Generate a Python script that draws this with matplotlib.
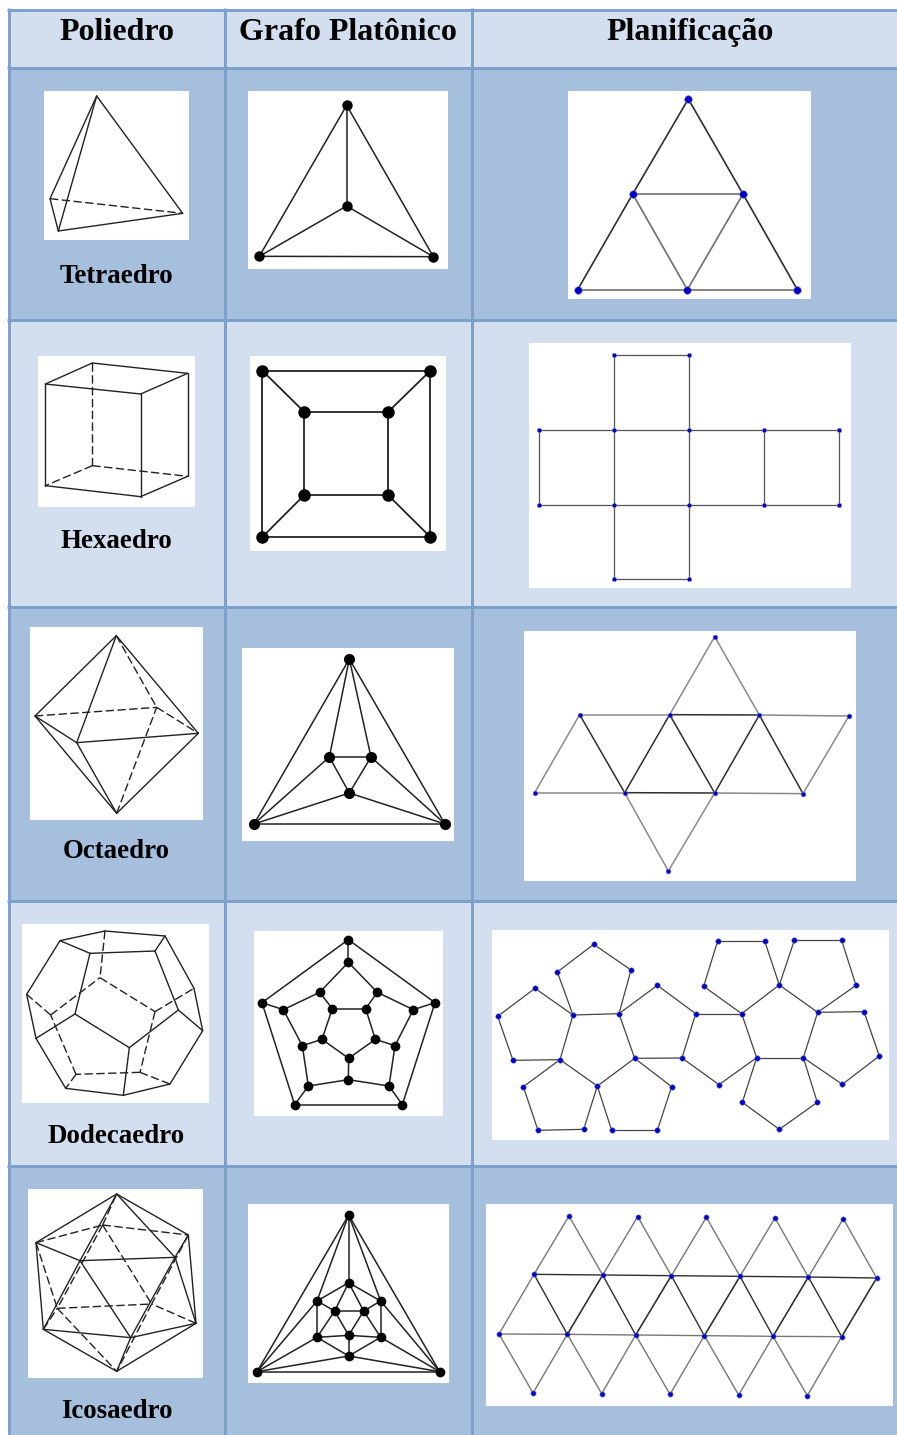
import matplotlib
matplotlib.use("Agg")
import matplotlib.pyplot as plt
from matplotlib.patches import Rectangle

LIGHT = "#D3DFEE"
DARK = "#A5BFDD"
BORDER = "#7BA0CD"

HEADERS = ["Poliedro", "Grafo Platônico", "Planificação"]
LABELS = ["Tetraedro", "Hexaedro", "Octaedro", "Dodecaedro", "Icosaedro"]

TETRA_POLY_X = [290, 150, 175, 548]
TETRA_POLY_Y = [288, 596, 693, 640]
TETRA_POLY_EDGES = [(0, 1), (0, 2), (0, 3), (1, 2), (2, 3)]
TETRA_POLY_DASHED = [(1, 3)]

TETRA_GRAPH_X = [1040, 1040, 778, 1300]
TETRA_GRAPH_Y = [316, 618, 769, 770]
TETRA_GRAPH_EDGES = [(0, 1), (0, 2), (0, 3), (1, 2), (1, 3), (2, 3)]

TETRA_NET_X = [625, 458, 789, 293, 622, 952]
TETRA_NET_Y = [297, 582, 582, 869, 869, 869]
TETRA_NET_EDGES = [(1, 2), (1, 4), (2, 4), (3, 4), (4, 5)]
TETRA_NET_HEAVY = [(0, 1), (0, 2), (1, 3), (2, 5)]

HEXA_POLY_X = [136, 277, 563, 422, 422, 563, 136, 277]
HEXA_POLY_Y = [162, 99, 130, 192, 500, 439, 467, 407]
HEXA_POLY_EDGES = [(0, 1), (1, 2), (2, 3), (3, 0), (0, 6), (3, 4), (2, 5), (6, 4), (4, 5)]
HEXA_POLY_DASHED = [(1, 7), (7, 6), (7, 5)]

HEXA_GRAPH_X = [787, 1291, 787, 1291, 913, 1164, 913, 1164]
HEXA_GRAPH_Y = [122, 122, 621, 621, 246, 246, 495, 495]
HEXA_GRAPH_EDGES = [(0, 1), (0, 2), (1, 3), (2, 3), (4, 5), (4, 6), (5, 7), (6, 7),
                    (0, 4), (1, 5), (2, 6), (3, 7)]

# this one is in plain pixels
HEXA_NET_X = [614, 689, 539, 614, 689, 764, 839, 539, 614, 689, 764, 839, 614, 689]
HEXA_NET_Y = [355, 355, 430, 430, 430, 430, 430, 505, 505, 505, 505, 505, 579, 579]
HEXA_NET_EDGES = [(0, 1), (0, 3), (1, 4), (2, 3), (3, 4), (4, 5), (5, 6), (2, 7), (3, 8),
                  (4, 9), (5, 10), (6, 11), (7, 8), (8, 9), (9, 10), (10, 11), (8, 12),
                  (9, 13), (12, 13)]

OCTA_POLY_X = [349, 105, 595, 350, 230, 470]
OCTA_POLY_Y = [77, 318, 370, 610, 398, 292]
OCTA_POLY_EDGES = [(0, 1), (0, 2), (0, 4), (3, 1), (3, 2), (3, 4), (1, 4), (4, 2)]
OCTA_POLY_DASHED = [(0, 5), (3, 5), (1, 5), (5, 2)]

OCTA_GRAPH_X = [1048, 762, 1335, 988, 1113, 1048]
OCTA_GRAPH_Y = [147, 642, 642, 441, 441, 549]
OCTA_GRAPH_EDGES = [(0, 1), (0, 2), (1, 2), (0, 3), (0, 4), (3, 4), (3, 5), (4, 5),
                    (3, 1), (4, 2), (5, 1), (5, 2)]

OCTA_NET_X = [614, 209, 479, 748, 1017, 74, 344, 614, 879, 475]
OCTA_NET_Y = [50, 284, 284, 285, 288, 518, 518, 519, 521, 753]
OCTA_NET_EDGES = [(0, 2), (0, 3), (1, 2), (3, 4), (5, 6), (7, 8), (1, 5), (4, 8), (6, 9), (7, 9)]
OCTA_NET_HEAVY = [(2, 3), (6, 7), (1, 6), (2, 6), (2, 7), (3, 7), (3, 8)]

DODECA_POLY_X = [180, 315, 495, 582, 608, 510, 370, 197, 108, 80,
                 270, 465, 535, 388, 225, 300, 465, 420, 228, 152]
DODECA_POLY_Y = [92, 63, 78, 235, 362, 522, 556, 535, 385, 253,
                 130, 123, 300, 413, 312, 203, 305, 487, 493, 315]
DODECA_POLY_EDGES = [(0, 1), (1, 2), (2, 3), (3, 4), (4, 5), (5, 6), (6, 7), (7, 8), (8, 9),
                     (9, 0), (0, 10), (10, 11), (11, 2), (11, 12), (12, 4), (12, 13),
                     (13, 14), (14, 10), (14, 8), (13, 6)]
DODECA_POLY_DASHED = [(1, 15), (15, 16), (16, 17), (17, 18), (18, 19), (19, 15),
                      (16, 3), (17, 5), (18, 7), (19, 9)]

DODECA_GRAPH_X = [1045, 1305, 1207, 884, 786, 1045, 1132, 1240, 1185, 1167,
                  1045, 925, 907, 850, 959, 1097, 1126, 1046, 966, 997]
DODECA_GRAPH_Y = [89, 278, 584, 584, 278, 157, 247, 299, 407, 528,
                  509, 528, 407, 299, 247, 296, 388, 445, 388, 296]
DODECA_GRAPH_EDGES = [(0, 1), (1, 2), (2, 3), (3, 4), (4, 0), (0, 5), (1, 7), (2, 9), (3, 11),
                      (4, 13), (5, 6), (6, 7), (7, 8), (8, 9), (9, 10), (10, 11), (11, 12),
                      (12, 13), (13, 14), (14, 5), (6, 15), (8, 16), (10, 17), (12, 18),
                      (14, 19), (15, 16), (16, 17), (17, 18), (18, 19), (19, 15)]

DODECA_NET_X = [341, 232, 453, 279, 417, 165, 53, 99, 240, 464, 352, 130, 174, 311, 395, 532,
                575, 532, 647, 606, 785, 830, 717, 898, 1013, 970, 671, 713, 854, 943, 1085,
                1128, 1152, 1198, 1087, 787, 898, 1012]
DODECA_NET_Y = [73, 156, 150, 285, 281, 205, 289, 421, 419, 415, 498, 500, 631, 628, 631, 631,
                500, 196, 281, 414, 281, 413, 494, 195, 277, 413, 199, 63, 63, 61, 61,
                196, 275, 408, 493, 547, 628, 547]
DODECA_NET_EDGES = [(0, 1), (0, 2), (1, 3), (2, 4), (3, 4), (5, 6), (6, 7), (7, 8), (8, 3), (3, 5),
                    (4, 9), (9, 10), (10, 8), (8, 11), (11, 12), (12, 13), (13, 10), (10, 14),
                    (14, 15), (15, 16), (16, 9), (4, 17), (17, 18), (18, 19), (19, 9), (18, 20),
                    (20, 21), (21, 22), (22, 19), (20, 23), (23, 24), (24, 25), (25, 21), (20, 26),
                    (26, 27), (27, 28), (28, 23), (23, 29), (29, 30), (30, 31), (31, 24), (24, 32),
                    (32, 33), (33, 34), (34, 25), (21, 35), (35, 36), (36, 37), (37, 25)]

ICOSA_POLY_X = [350, 108, 565, 308, 240, 525, 130, 588, 392, 350, 172, 455]
ICOSA_POLY_Y = [72, 218, 195, 165, 272, 262, 478, 460, 503, 604, 415, 402]
ICOSA_POLY_EDGES = [(0, 1), (0, 2), (0, 4), (0, 5), (1, 4), (4, 5), (5, 2), (1, 6), (2, 7),
                    (4, 6), (4, 8), (5, 8), (5, 7), (6, 8), (8, 7), (6, 9), (7, 9), (8, 9)]
ICOSA_POLY_DASHED = [(1, 3), (3, 2), (3, 0), (3, 10), (3, 11), (10, 11), (1, 10), (2, 11),
                     (6, 10), (7, 11), (10, 9), (11, 9)]

ICOSA_GRAPH_X = [1046, 771, 1319, 1046, 951, 1142, 951, 1142, 1046, 1004, 1091, 1046]
ICOSA_GRAPH_Y = [135, 605, 605, 338, 393, 393, 502, 502, 558, 423, 423, 496]
ICOSA_GRAPH_EDGES = [(0, 1), (0, 2), (1, 2), (0, 3), (0, 4), (0, 5), (1, 4), (1, 6), (1, 8),
                     (2, 5), (2, 7), (2, 8), (3, 4), (3, 5), (4, 6), (5, 7), (6, 8), (7, 8),
                     (9, 10), (9, 11), (10, 11), (3, 9), (3, 10), (4, 9), (6, 9), (6, 11),
                     (7, 11), (7, 10), (5, 10), (8, 11)]

# rows: 5 top, 6, 6, 5 bottom
ICOSA_NET_X = [267, 473, 679, 885, 1090,
               162, 368, 574, 780, 985, 1190,
               57, 262, 467, 673, 879, 1085,
               159, 365, 570, 776, 982]
ICOSA_NET_Y = [48, 50, 52, 54, 56,
               223, 225, 227, 229, 231, 234,
               402, 403, 405, 407, 409, 410,
               579, 581, 583, 585, 587]
ICOSA_NET_EDGES = [(10, 16)]
ICOSA_NET_HEAVY = []
for i in range(5):
    ICOSA_NET_EDGES += [(i, i + 5), (i, i + 6), (i + 11, i + 12), (i + 5, i + 11),
                        (i + 11, i + 17), (i + 12, i + 17)]
    ICOSA_NET_HEAVY += [(i + 5, i + 6), (i + 5, i + 12), (i + 6, i + 12)]

# white picture boxes, x0 y0 x1 y1 in pixels
POLY_BOXES = [(44, 91, 189, 240), (38, 356, 195, 507), (30, 627, 203, 820),
              (22, 924, 209, 1103), (28, 1189, 203, 1378)]
GRAPH_BOXES = [(248, 91, 448, 269), (250, 356, 446, 551), (242, 648, 454, 841),
               (254, 931, 443, 1116), (248, 1204, 449, 1383)]
NET_BOXES = [(568, 91, 811, 299), (529, 343, 851, 588), (524, 631, 856, 881),
             (492, 930, 889, 1140), (486, 1204, 893, 1406)]

ROW_LINES = [9.5, 67.5, 319.5, 606.5, 900.5, 1165.5, 1436]
COL_LINES = [8.5, 224.5, 471.5]
LABEL_BASELINES = [283, 548, 858, 1143, 1418]

fig = plt.figure(figsize=(8.97, 14.35), dpi=100)
ax = fig.add_axes([0, 0, 1, 1])
ax.set_xlim(0, 897)
ax.set_ylim(1435, 0)
ax.axis("off")


def draw(xs, ys, edges, dashed=(), heavy=(), crop=(0, 0), scale=3.0, color="#222222", lw=1.0,
         node=None, ms=7.0):
    px = [crop[0] + x / scale for x in xs]
    py = [crop[1] + y / scale for y in ys]
    for a, b in edges:
        ax.plot([px[a], px[b]], [py[a], py[b]], color=color, lw=lw, zorder=3,
                solid_capstyle="round")
    for a, b in heavy:
        ax.plot([px[a], px[b]], [py[a], py[b]], color="#2E2E2E", lw=lw, zorder=3,
                solid_capstyle="round")
    for a, b in dashed:
        ax.plot([px[a], px[b]], [py[a], py[b]], color=color, lw=lw, zorder=3,
                linestyle=(0, (6, 2.5)))
    if node == "black":
        ax.plot(px, py, "o", color="black", ms=ms, mew=0, zorder=4)
    elif node == "blue":
        ax.plot(px, py, "o", color="#0000CC", ms=ms, mec="#8A8AA0", mew=0.4, zorder=4)


# table background and grid
for i in range(len(ROW_LINES) - 1):
    fill = LIGHT if i % 2 == 0 else DARK
    ax.add_patch(Rectangle((COL_LINES[0], ROW_LINES[i]), 897 - COL_LINES[0],
                           ROW_LINES[i + 1] - ROW_LINES[i], fc=fill, ec="none", zorder=1))
for y in ROW_LINES[:-1]:
    ax.plot([COL_LINES[0] - 1.5, 897], [y, y], color=BORDER, lw=2.1, zorder=2,
            solid_capstyle="butt")
for x in COL_LINES:
    ax.plot([x, x], [ROW_LINES[0] - 1.5, 1435], color=BORDER, lw=2.1, zorder=2,
            solid_capstyle="butt")

for box in POLY_BOXES + GRAPH_BOXES + NET_BOXES:
    ax.add_patch(Rectangle((box[0], box[1]), box[2] - box[0], box[3] - box[1],
                           fc="white", ec="none", zorder=2.5))

# polyhedra
draw(TETRA_POLY_X, TETRA_POLY_Y, TETRA_POLY_EDGES, TETRA_POLY_DASHED)
draw(HEXA_POLY_X, HEXA_POLY_Y, HEXA_POLY_EDGES, HEXA_POLY_DASHED, crop=(0, 330))
draw(OCTA_POLY_X, OCTA_POLY_Y, OCTA_POLY_EDGES, OCTA_POLY_DASHED, crop=(0, 610))
draw(DODECA_POLY_X, DODECA_POLY_Y, DODECA_POLY_EDGES, DODECA_POLY_DASHED, crop=(0, 910))
draw(ICOSA_POLY_X, ICOSA_POLY_Y, ICOSA_POLY_EDGES, ICOSA_POLY_DASHED, crop=(0, 1170))

# platonic graphs
draw(TETRA_GRAPH_X, TETRA_GRAPH_Y, TETRA_GRAPH_EDGES, lw=1.1, node="black", ms=7.5)
draw(HEXA_GRAPH_X, HEXA_GRAPH_Y, HEXA_GRAPH_EDGES, crop=(0, 330), lw=1.3, node="black", ms=9)
draw(OCTA_GRAPH_X, OCTA_GRAPH_Y, OCTA_GRAPH_EDGES, crop=(0, 610), lw=1.1, node="black", ms=8)
draw(DODECA_GRAPH_X, DODECA_GRAPH_Y, DODECA_GRAPH_EDGES, crop=(0, 910), lw=1.1, node="black", ms=7)
draw(ICOSA_GRAPH_X, ICOSA_GRAPH_Y, ICOSA_GRAPH_EDGES, crop=(0, 1170), lw=1.1, node="black", ms=7)

# nets
draw(TETRA_NET_X, TETRA_NET_Y, TETRA_NET_EDGES, heavy=TETRA_NET_HEAVY, crop=(480, 0),
     color="#6E6E6E", lw=1.2, node="blue", ms=5.5)
draw(HEXA_NET_X, HEXA_NET_Y, HEXA_NET_EDGES, scale=1.0, color="#555555", lw=0.9,
     node="blue", ms=3.2)
draw(OCTA_NET_X, OCTA_NET_Y, OCTA_NET_EDGES, heavy=OCTA_NET_HEAVY, crop=(510, 620),
     color="#8A8A8A", lw=1.1, node="blue", ms=3.5)
draw(DODECA_NET_X, DODECA_NET_Y, DODECA_NET_EDGES, crop=(480, 920), color="#444444", lw=0.9,
     node="blue", ms=4)
draw(ICOSA_NET_X, ICOSA_NET_Y, ICOSA_NET_EDGES, heavy=ICOSA_NET_HEAVY, crop=(480, 1200),
     color="#777777", lw=1.0, node="blue", ms=3.8)

serif = ["Liberation Serif", "DejaVu Serif"]
for text, x in zip(HEADERS, [116.5, 348, 690.5]):
    ax.text(x, 40, text, family=serif, weight="bold", fontsize=23, ha="center",
            va="baseline", color="black", zorder=5)
for text, y in zip(LABELS, LABEL_BASELINES):
    ax.text(116.5, y, text, family=serif, weight="bold", fontsize=19.4, ha="center",
            va="baseline", color="black", zorder=5)

fig.savefig("out.png", dpi=100)
